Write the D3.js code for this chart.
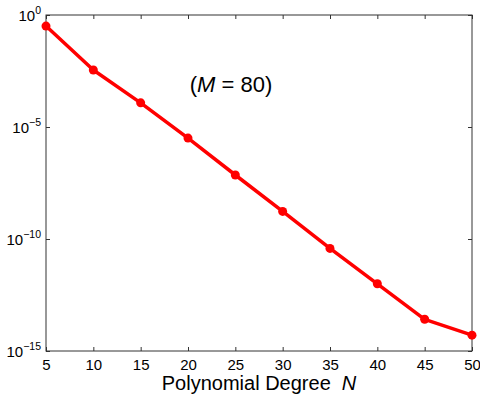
<!DOCTYPE html>
<html><head><meta charset="utf-8">
<script src="https://cdn.jsdelivr.net/npm/d3@7"></script>
<style>body{margin:0;background:#fff;}svg{display:block;font-family:"Liberation Sans",Arial,Helvetica,sans-serif;}</style>
</head><body>
<svg id="c" width="480" height="400"></svg>
<script>
const degrees = [5, 10, 15, 20, 25, 30, 35, 40, 45, 50];
const errors = [0.32, 3.5e-3, 1.2e-4, 3.2e-6, 7.2e-8, 1.7e-9, 3.8e-11, 1.0e-12, 2.6e-14, 5.1e-15];
const xTicks = [5, 10, 15, 20, 25, 30, 35, 40, 45, 50];
const yTickExps = [0, -5, -10, -15];
const annotation = "80";

const svg = d3.select("#c");
const L = 46, R = 472, T = 15, B = 351;
const x = d3.scaleLinear().domain([5, 50]).range([L, R]);
const y = d3.scaleLog().domain([1e-15, 1]).range([B, T]);
const axisColor = "#333";

svg.append("rect").attr("x", L).attr("y", T).attr("width", R - L).attr("height", B - T)
  .attr("fill", "none").attr("stroke", axisColor).attr("stroke-width", 1);

const gx = svg.append("g").attr("transform", `translate(0,${B})`)
  .call(d3.axisBottom(x).tickValues(xTicks).tickSize(-4).tickPadding(8).tickFormat(d3.format("d")));
const gxt = svg.append("g").attr("transform", `translate(0,${T})`)
  .call(d3.axisTop(x).tickValues(xTicks).tickSize(-4).tickFormat(""));
const yTicks = yTickExps.map(e => Math.pow(10, e));
const gy = svg.append("g").attr("transform", `translate(${L},0)`)
  .call(d3.axisLeft(y).tickValues(yTicks).tickSize(-4).tickFormat(""));
const gyr = svg.append("g").attr("transform", `translate(${R},0)`)
  .call(d3.axisRight(y).tickValues(yTicks).tickSize(-4).tickFormat(""));
[gx, gxt, gy, gyr].forEach(g => {
  g.select(".domain").remove();
  g.selectAll("line").attr("stroke", axisColor);
});
gx.selectAll("text").attr("font-size", 15).attr("fill", "#000").attr("font-family", "Liberation Sans, Arial, sans-serif");

yTickExps.forEach(e => {
  const t = svg.append("text").attr("x", 41).attr("y", y(Math.pow(10, e)) + 6)
    .attr("text-anchor", "end").attr("font-size", 15).attr("fill", "#000");
  t.append("tspan").text("10");
  t.append("tspan").attr("dy", -7).attr("font-size", 10.5).text(e === 0 ? "0" : "\u2212" + Math.abs(e));
});

svg.append("path").datum(degrees.map((d, i) => [d, errors[i]]))
  .attr("fill", "none").attr("stroke", "#ff0000").attr("stroke-width", 3.5)
  .attr("stroke-linejoin", "round")
  .attr("d", d3.line().x(d => x(d[0])).y(d => y(d[1])));
svg.selectAll("circle.pt").data(degrees).enter().append("circle")
  .attr("cx", d => x(d)).attr("cy", (d, i) => y(errors[i])).attr("r", 4.5).attr("fill", "#ff0000");

const a = svg.append("text").attr("x", 231).attr("y", 92).attr("text-anchor", "middle")
  .attr("font-size", 22).attr("fill", "#000");
a.append("tspan").text("(");
a.append("tspan").attr("font-style", "italic").text("M");
a.append("tspan").text(" = " + annotation + ")");

const xl = svg.append("text").attr("x", 259).attr("y", 390).attr("text-anchor", "middle")
  .attr("font-size", 20).attr("fill", "#000");
xl.append("tspan").text("Polynomial Degree");
xl.append("tspan").attr("dx", 11).attr("font-style", "italic").text("N");
</script>
</body></html>
